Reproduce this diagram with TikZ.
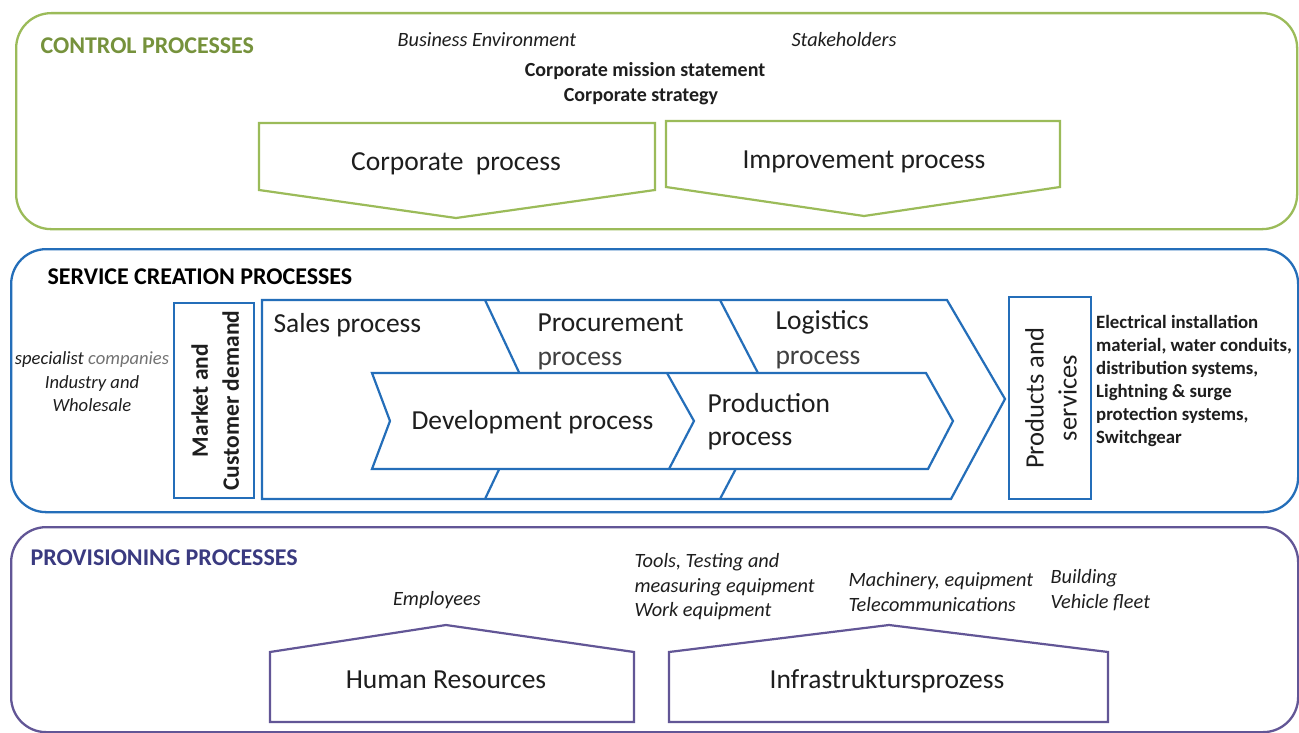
\documentclass[tikz,border=0pt]{standalone}
\usepackage{fontspec}
\setmainfont{Carlito}
\definecolor{cgreen}{RGB}{155,187,89}
\definecolor{tgreen}{RGB}{118,146,60}
\definecolor{cblue}{RGB}{36,110,185}
\definecolor{cpurple}{RGB}{98,86,150}
\definecolor{tpurple}{RGB}{58,58,128}
\definecolor{tdark}{RGB}{30,30,30}
\begin{document}
\begin{tikzpicture}[x=1pt,y=-1pt,
  region/.style={draw=#1, line width=2.3pt, rounded corners=35pt, anchor=north west, inner sep=0pt},
  shapeline/.style={draw=#1, line width=2.2pt, line join=miter},
  boxnode/.style={draw=cblue, line width=2.2pt, anchor=north west, inner sep=0pt},
  titlefont/.style={font=\fontsize{24}{28}\selectfont\bfseries},
  bigtext/.style={font=\fontsize{27.5}{34}\selectfont, text=tdark, text height=20pt, text depth=6pt},
  itext/.style={font=\fontsize{20.3}{24.5}\selectfont\itshape, text=tdark, align=left},
  btext/.style={font=\fontsize{20}{26}\selectfont\bfseries, text=tdark},
  rtext/.style={font=\fontsize{18.8}{23}\selectfont\bfseries, text=tdark, align=left}
]
\useasboundingbox (0,0) rectangle (1299,733);
\fill[white] (0,0) rectangle (1299,733);

% ---------------- CONTROL PROCESSES ----------------
\node[region=cgreen, minimum width=1281pt, minimum height=216pt] (ctrl) at (15,12) {};
\node[titlefont, text=tgreen, anchor=west] (ctrltitle) at (37,46) {CONTROL PROCESSES};
\node[itext, anchor=west] (busenv) at (394,40) {Business Environment};
\node[itext, anchor=west] (stake) at (788,40) {Stakeholders};
\node[btext] (mission) at (645,71) {Corporate mission statement};
\node[btext] (strategy) at (641,97) {Corporate strategy};

\draw[shapeline=cgreen] (259,123) -- (655,123) -- (655,190) -- (456,218) -- (259,190) -- cycle;
\node[bigtext] (corp) at (456,164) {Corporate\ \ process};
\draw[shapeline=cgreen] (666,121) -- (1060,121) -- (1060,187) -- (864,216) -- (666,187) -- cycle;
\node[bigtext] (improve) at (864,162) {Improvement process};

% ---------------- SERVICE CREATION PROCESSES ----------------
\node[region=cblue, minimum width=1287pt, minimum height=263pt] (serv) at (10,248) {};
\node[titlefont, text=black, anchor=west] (servtitle) at (44,277) {SERVICE CREATION PROCESSES};

\node[font=\fontsize{18.6}{23.5}\selectfont\itshape, text=tdark, align=center] (cust) at (92,382)
  {specialist {\color{black!55}companies}\\Industry and\\Wholesale};

\node[boxnode, minimum width=80pt, minimum height=195pt] (market) at (173,302) {};
\node[rotate=90, align=center, font=\fontsize{23.5}{31}\selectfont\bfseries, text=tdark] (marketlbl) at ([xshift=1pt]market.center) {Market and\\Customer demand};

% outer chevron chain
\draw[shapeline=cblue] (262,300) -- (947,300) -- (1005,399) -- (951,499) -- (262,499) -- cycle;
\draw[shapeline=cblue] (485,300) -- (532,400) -- (485,499);
\draw[shapeline=cblue] (720,300) -- (772,400) -- (720,499);
\node[bigtext, anchor=west] (sales) at (270,325) {Sales process};
\node[bigtext, anchor=west] (procure) at (534,324) {Procurement};
\node[bigtext, anchor=west, text=black!75] (procure2) at (534,358) {process};
\node[bigtext, anchor=west] (logist) at (772,322) {Logistics};
\node[bigtext, anchor=west, text=black!75] (logist2) at (772,357) {process};

% inner chevron chain
\draw[shapeline=cblue, fill=white] (372,373) -- (926,373) -- (953,421) -- (928,469) -- (372,469) -- (390,421) -- cycle;
\draw[shapeline=cblue] (667,373) -- (694,421) -- (669,469);
\node[bigtext, anchor=west] (dev) at (408,422) {Development process};
\node[bigtext, anchor=west] (prod) at (704,405) {Production};
\node[bigtext, anchor=west] (prod2) at (704,438) {process};

\node[boxnode, minimum width=82pt, minimum height=202pt] (products) at (1008,296) {};
\node[rotate=90, align=center, font=\fontsize{26.5}{33}\selectfont, text=tdark] (productslbl) at ([xshift=1pt]products.center) {Products and\\services};

\node[rtext] (prodlist) at (1194,381)
  {Electrical installation\\material, water conduits,\\distribution systems,\\Lightning \& surge\\protection systems,\\Switchgear};

% ---------------- PROVISIONING PROCESSES ----------------
\node[region=cpurple, minimum width=1287pt, minimum height=205pt] (prov) at (10,526) {};
\node[titlefont, text=tpurple, anchor=west] (provtitle) at (27,558) {PROVISIONING PROCESSES};

\node[itext] (employees) at (437,600) {Employees};
\node[itext, anchor=west] (tools) at (631,587) {Tools, Testing and\\measuring equipment\\Work equipment};
\node[itext, anchor=west] (mach) at (845,592) {Machinery, equipment\\Telecommunications};
\node[itext, anchor=west] (build) at (1047,590) {Building\\Vehicle fleet};

\draw[shapeline=cpurple] (270,652) -- (446,625) -- (634,652) -- (634,722) -- (270,722) -- cycle;
\node[bigtext] (hr) at (446,681) {Human Resources};
\draw[shapeline=cpurple] (669,652) -- (889,625) -- (1108,652) -- (1108,722) -- (669,722) -- cycle;
\node[bigtext] (infra) at (887,681) {Infrastruktursprozess};
\end{tikzpicture}
\end{document}
